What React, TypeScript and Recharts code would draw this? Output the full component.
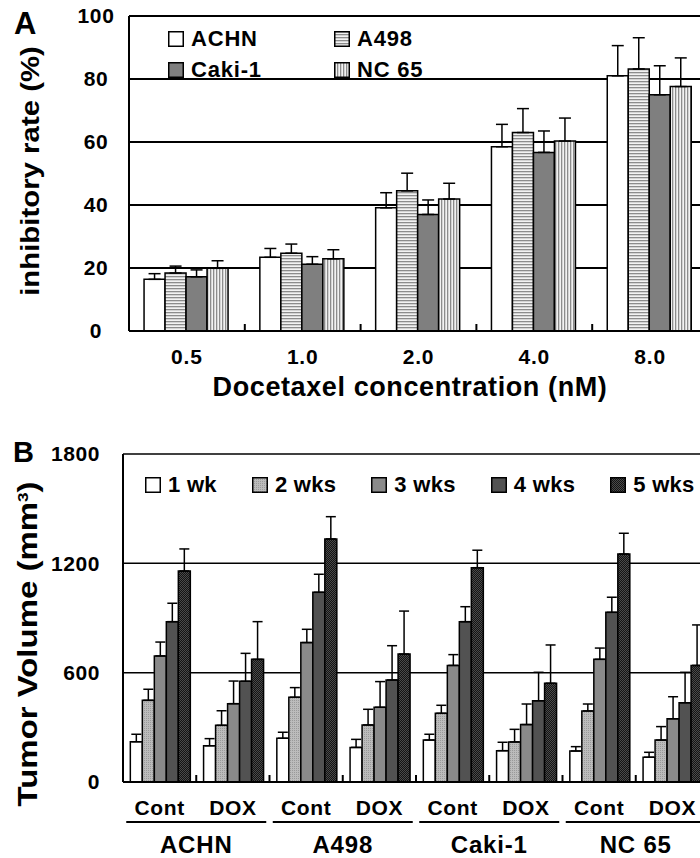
import React from "react";
import { BarChart, Bar, XAxis, YAxis, CartesianGrid, ErrorBar } from "recharts";

// ---- panel A: inhibitory rate vs docetaxel dose ----
const doses = ["0.5", "1.0", "2.0", "4.0", "8.0"];
const achn = [16.4, 23.4, 39.1, 58.5, 81.0];
const achnErr = [1.8, 2.8, 4.8, 7.1, 9.6];
const a498 = [18.4, 24.7, 44.5, 63.0, 83.2];
const a498Err = [2.2, 2.9, 5.6, 7.6, 9.9];
const caki = [17.2, 21.2, 37.0, 56.7, 75.0];
const cakiErr = [2.2, 2.4, 4.6, 6.8, 9.2];
const nc65 = [19.9, 22.9, 41.9, 60.3, 77.6];
const nc65Err = [2.4, 2.9, 5.0, 7.3, 9.1];
const ticksA = [0, 20, 40, 60, 80, 100];

// ---- panel B: tumor volume by week ----
const cellLines = ["ACHN", "A498", "Caki-1", "NC 65"];
const groups = ["Cont", "DOX", "Cont", "DOX", "Cont", "DOX", "Cont", "DOX"];
const wk1 = [221, 199, 240, 190, 230, 172, 170, 136];
const wk1Err = [41, 39, 33, 44, 32, 46, 24, 27];
const wk2 = [448, 311, 465, 313, 377, 220, 390, 230];
const wk2Err = [61, 80, 53, 86, 44, 69, 38, 74];
const wk3 = [692, 430, 765, 410, 640, 315, 673, 347];
const wk3Err = [76, 124, 73, 141, 59, 113, 62, 121];
const wk4 = [880, 553, 1041, 560, 880, 446, 931, 435];
const wk4Err = [101, 153, 99, 188, 82, 156, 83, 167];
const wk5 = [1158, 673, 1334, 702, 1176, 542, 1251, 640];
const wk5Err = [121, 207, 122, 236, 96, 210, 114, 222];
const ticksB = [0, 600, 1200, 1800];

const FONT = '"Liberation Sans", Arial, Helvetica, sans-serif';

// chart geometry (plot runs past the right edge of the picture, like the figure)
const W = 720;
const A_LEFT = 129, A_RIGHT = 12;
const B_LEFT = 123, B_RIGHT = 11;
const BAND_A = (W - A_LEFT - A_RIGHT) / doses.length;
const BAND_B = (W - B_LEFT - B_RIGHT) / groups.length;

const seriesA = [
  { key: "achn", name: "ACHN", fill: "#ffffff", vals: achn, err: achnErr },
  { key: "a498", name: "A498", fill: "url(#hstripe)", vals: a498, err: a498Err },
  { key: "caki", name: "Caki-1", fill: "#7f7f7f", vals: caki, err: cakiErr },
  { key: "nc65", name: "NC 65", fill: "url(#vstripe)", vals: nc65, err: nc65Err },
];

const seriesB = [
  { key: "w1", name: "1 wk", fill: "#ffffff", vals: wk1, err: wk1Err },
  { key: "w2", name: "2 wks", fill: "url(#dots)", vals: wk2, err: wk2Err },
  { key: "w3", name: "3 wks", fill: "#8a8a8a", vals: wk3, err: wk3Err },
  { key: "w4", name: "4 wks", fill: "#525252", vals: wk4, err: wk4Err },
  { key: "w5", name: "5 wks", fill: "url(#checker)", vals: wk5, err: wk5Err },
];

const dataA = doses.map((dose, i) => {
  const row: any = { dose, idx: i };
  seriesA.forEach((s) => {
    row[s.key] = s.vals[i];
    row[s.key + "Err"] = [0, s.err[i]];
  });
  return row;
});

const dataB = groups.map((g, i) => {
  const row: any = { group: g, idx: i };
  seriesB.forEach((s) => {
    row[s.key] = s.vals[i];
    row[s.key + "Err"] = [0, s.err[i]];
  });
  return row;
});

const boldTick = (size: number, extra: any = {}) => ({
  fill: "#000",
  fontSize: size,
  fontWeight: "bold",
  fontFamily: FONT,
  ...extra,
});

const TICK_GAP = 18;

// dose label + small divider mark on the baseline between categories
const TickA = (props: any) => {
  const { x, y, payload } = props;
  const i = payload.value;
  const base = y - TICK_GAP;
  const bx = x - BAND_A / 2;
  return (
    <g>
      {i > 0 && <line x1={bx} x2={bx} y1={base} y2={base - 7} stroke="#000" strokeWidth={2} />}
      <text x={x} y={y} dy="0.71em" textAnchor="middle" {...boldTick(21)} letterSpacing={0.8}>
        {doses[i]}
      </text>
    </g>
  );
};

// Cont/DOX label, divider mark, and the cell-line label under each pair
const TickB = (props: any) => {
  const { x, y, payload } = props;
  const i = payload.value;
  const base = y - TICK_GAP;
  const bx = x - BAND_B / 2;
  return (
    <g>
      {i > 0 && <line x1={bx} x2={bx} y1={base} y2={base - 7} stroke="#000" strokeWidth={2} />}
      <text x={x} y={y} dy="0.71em" textAnchor="middle" {...boldTick(21)} letterSpacing={0.6}>
        {groups[i]}
      </text>
      {i % 2 === 1 && (
        <g>
          <line x1={bx - 70} x2={bx + 70} y1={base + 40} y2={base + 40} stroke="#000" strokeWidth={2} />
          <text x={bx} y={base + 71} textAnchor="middle" {...boldTick(24)} letterSpacing={0.8}>
            {cellLines[(i - 1) / 2]}
          </text>
        </g>
      )}
    </g>
  );
};

const Swatch = ({ fill }: { fill: string }) => (
  <svg width={16} height={16} style={{ marginRight: 7, flex: "none" }}>
    <rect x={0.75} y={0.75} width={14.5} height={14.5} fill={fill} stroke="#000" strokeWidth={1.5} />
  </svg>
);

const LegendItem = ({ fill, name, spacing }: { fill: string; name: string; spacing: number }) => (
  <div
    style={{
      display: "flex",
      alignItems: "center",
      flex: "none",
      whiteSpace: "nowrap",
      fontSize: 22,
      lineHeight: 1,
      fontWeight: "bold",
    }}
  >
    <Swatch fill={fill} />
    <span style={{ letterSpacing: spacing }}>{name}</span>
  </div>
);

const rotTitle = (cx: number, cy: number, size: number, stretch: number): React.CSSProperties => ({
  position: "absolute",
  left: cx,
  top: cy,
  transform: `translate(-50%, -50%) rotate(-90deg) scaleX(${stretch})`,
  whiteSpace: "nowrap",
  fontSize: size,
  lineHeight: 1,
  fontWeight: "bold",
});

export default function App() {
  return (
    <div
      style={{
        position: "absolute",
        left: 0,
        top: 0,
        width: 700,
        height: 858,
        overflow: "hidden",
        background: "#fff",
        fontFamily: FONT,
        color: "#000",
      }}
    >
      <svg width={0} height={0} style={{ position: "absolute" }}>
        <defs>
          <pattern id="hstripe" width={4} height={3} patternUnits="userSpaceOnUse">
            <rect width={4} height={3} fill="#f2f2f2" />
            <rect width={4} height={1.3} fill="#8c8c8c" />
          </pattern>
          <pattern id="vstripe" width={3} height={4} patternUnits="userSpaceOnUse">
            <rect width={3} height={4} fill="#f2f2f2" />
            <rect width={1.3} height={4} fill="#8c8c8c" />
          </pattern>
          <pattern id="dots" width={2} height={2} patternUnits="userSpaceOnUse">
            <rect width={2} height={2} fill="#bcbcbc" />
            <rect width={1} height={1} fill="#9a9a9a" />
          </pattern>
          <pattern id="checker" width={2} height={2} patternUnits="userSpaceOnUse">
            <rect width={2} height={2} fill="#141414" />
            <rect width={1} height={1} fill="#4a4a4a" />
            <rect x={1} y={1} width={1} height={1} fill="#4a4a4a" />
          </pattern>
        </defs>
      </svg>

      {/* ---------------- Panel A ---------------- */}
      <div style={{ position: "absolute", left: 0, top: 0 }}>
        <BarChart
          width={W}
          height={371}
          data={dataA}
          margin={{ top: 16, right: A_RIGHT, left: 0, bottom: 0 }}
          barCategoryGap="13%"
          barGap={0}
        >
          <CartesianGrid vertical={false} stroke="#000" strokeWidth={2} />
          <XAxis
            dataKey="idx"
            interval={0}
            height={40}
            tickLine={false}
            tickSize={0}
            tickMargin={TICK_GAP}
            axisLine={{ stroke: "#000", strokeWidth: 2 }}
            tick={<TickA />}
          />
          <YAxis
            domain={[0, 100]}
            ticks={ticksA}
            width={A_LEFT}
            tickLine={false}
            tickSize={0}
            tickMargin={33}
            axisLine={{ stroke: "#000", strokeWidth: 2 }}
            tick={boldTick(21, { textAnchor: "middle", letterSpacing: 0.6 })}
          />
          {seriesA.map((s) => (
            <Bar key={s.key} dataKey={s.key} fill={s.fill} stroke="#000" strokeWidth={1.5} isAnimationActive={false}>
              <ErrorBar dataKey={s.key + "Err"} width={6} stroke="#000" strokeWidth={1.5} />
            </Bar>
          ))}
        </BarChart>
      </div>

      <div style={{ position: "absolute", left: 14, top: 8, fontSize: 31, lineHeight: 1, fontWeight: "bold" }}>A</div>
      <div style={rotTitle(30, 171, 26, 1.13)}>inhibitory rate (%)</div>
      <div
        style={{
          position: "absolute",
          left: 410,
          top: 374,
          transform: "translateX(-50%)",
          whiteSpace: "nowrap",
          fontSize: 27,
          lineHeight: 1,
          fontWeight: "bold",
          letterSpacing: 0.6,
        }}
      >
        Docetaxel concentration (nM)
      </div>
      <div
        style={{
          position: "absolute",
          left: 168,
          top: 28,
          display: "grid",
          gridTemplateColumns: "166px 166px",
          rowGap: 9,
        }}
      >
        {seriesA.map((s) => (
          <LegendItem key={s.key} fill={s.fill} name={s.name} spacing={0.8} />
        ))}
      </div>

      {/* ---------------- Panel B ---------------- */}
      <div style={{ position: "absolute", left: 0, top: 430 }}>
        <BarChart
          width={W}
          height={428}
          data={dataB}
          margin={{ top: 24, right: B_RIGHT, left: 0, bottom: 0 }}
          barCategoryGap="10%"
          barGap={0}
        >
          <CartesianGrid vertical={false} stroke="#000" strokeWidth={1.5} />
          <XAxis
            dataKey="idx"
            interval={0}
            height={76}
            tickLine={false}
            tickSize={0}
            tickMargin={TICK_GAP}
            axisLine={{ stroke: "#000", strokeWidth: 2 }}
            tick={<TickB />}
          />
          <YAxis
            domain={[0, 1800]}
            ticks={ticksB}
            width={B_LEFT}
            tickLine={false}
            tickSize={0}
            tickMargin={23}
            axisLine={{ stroke: "#000", strokeWidth: 2 }}
            tick={boldTick(21, { letterSpacing: 0.6 })}
          />
          {seriesB.map((s) => (
            <Bar key={s.key} dataKey={s.key} fill={s.fill} stroke="#000" strokeWidth={1.5} isAnimationActive={false}>
              <ErrorBar dataKey={s.key + "Err"} width={5} stroke="#000" strokeWidth={1.5} />
            </Bar>
          ))}
        </BarChart>
      </div>

      <div style={{ position: "absolute", left: 13, top: 438, fontSize: 29, lineHeight: 1, fontWeight: "bold" }}>B</div>
      <div style={rotTitle(28, 644, 27, 1.22)}>
        Tumor Volume (mm<sup style={{ fontSize: 14, verticalAlign: "9px" }}>3</sup>)
      </div>
      <div
        style={{
          position: "absolute",
          left: 145,
          top: 474,
          width: 600,
          display: "flex",
          flexWrap: "nowrap",
          columnGap: 35,
        }}
      >
        {seriesB.map((s) => (
          <LegendItem key={s.key} fill={s.fill} name={s.name} spacing={0.3} />
        ))}
      </div>
    </div>
  );
}
